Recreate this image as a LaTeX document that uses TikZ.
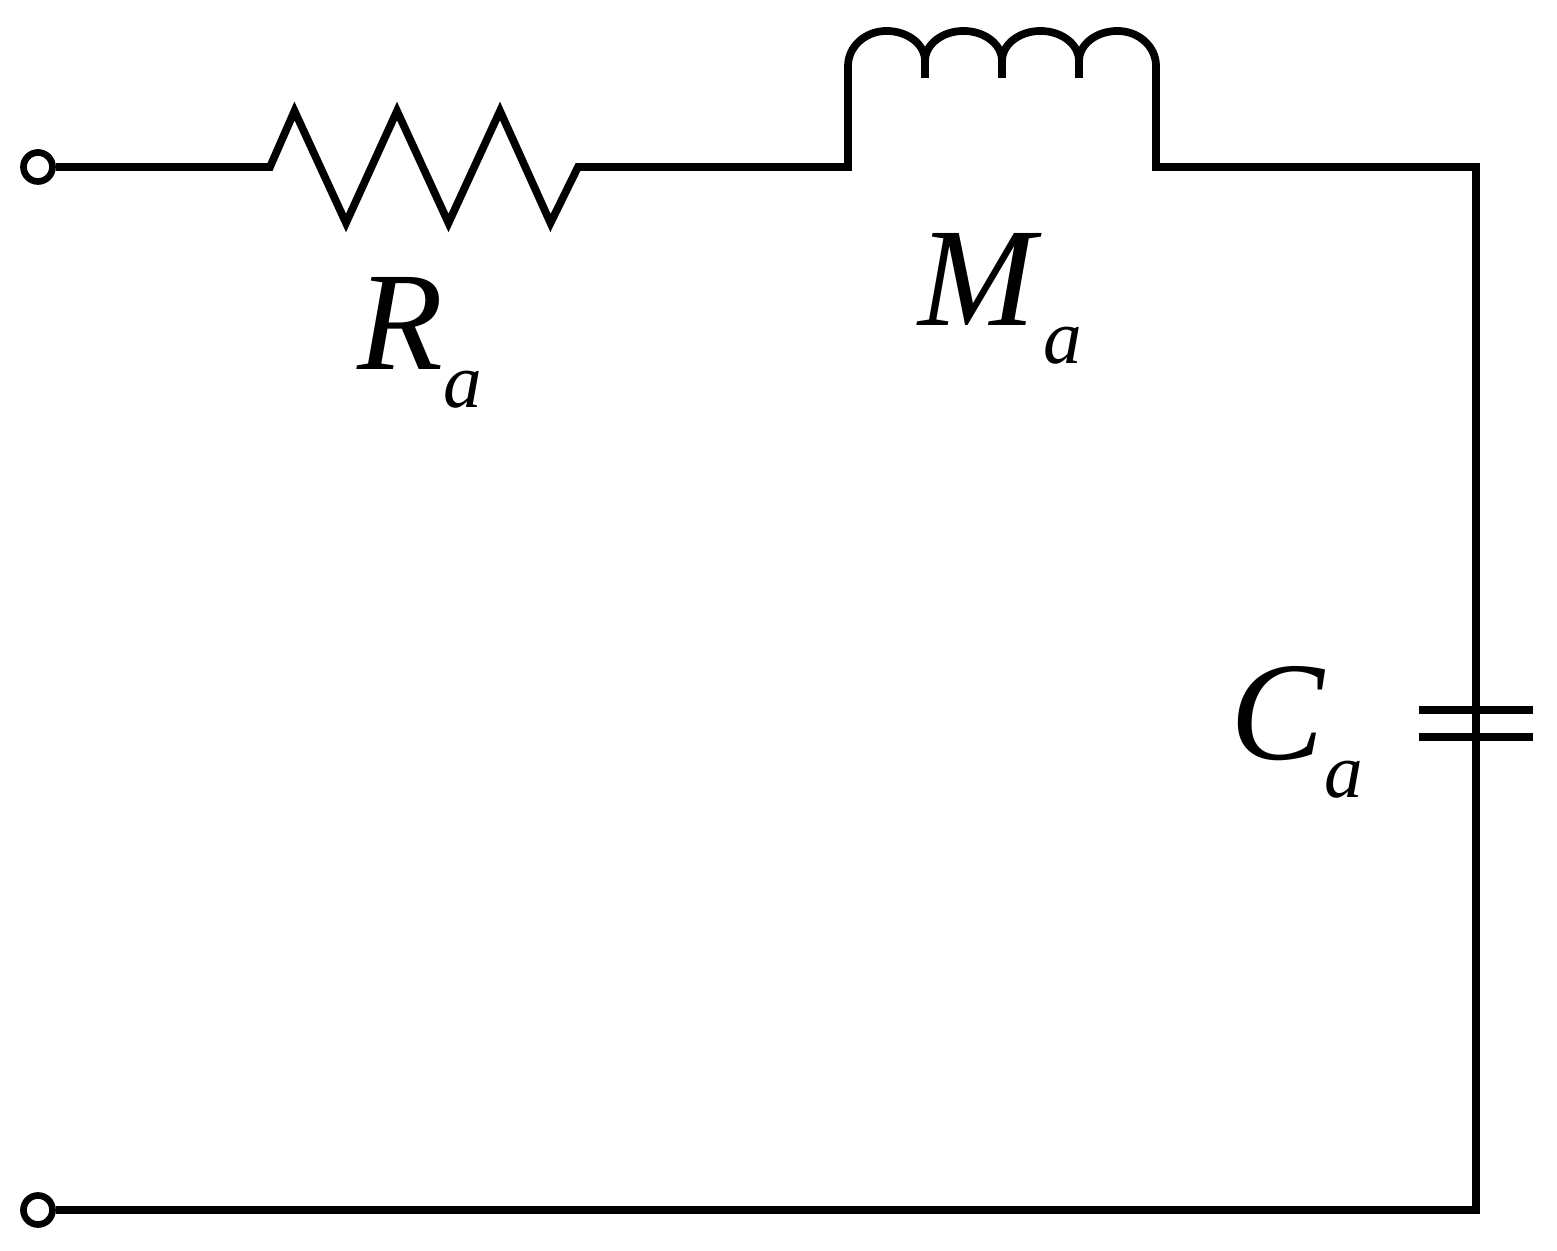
\documentclass[tikz,border=0pt]{standalone}
\usepackage{fontspec}
\setmainfont{Liberation Serif}
\newcommand{\sublabel}[2]{\fontsize{40}{40}\selectfont\itshape #1\raisebox{-0.38cm}{\fontsize{22}{22}\selectfont\itshape #2}}
\tikzset{
  wire/.style={line width=2.2pt, black},
  terminal/.style={circle, draw, line width=1.9pt, fill=white, inner sep=0pt, minimum size=0.29cm},
  complabel/.style={anchor=base west, inner sep=0pt}
}

\begin{document}
\begin{tikzpicture}
      \useasboundingbox (0,0) rectangle (15.57,12.51);
      \node [terminal] (Ta) at (0.38,10.84) {};
      \node [terminal] (Tb) at (0.38,0.41) {};
      \coordinate (Ra) at (2.70,10.84);
      \coordinate (Rb) at (5.78,10.84);
      \coordinate (La) at (8.48,10.84);
      \coordinate (Lb) at (11.56,10.84);
      \coordinate (Corner) at (14.76,10.84);
      \coordinate (Base) at (14.76,0.41);
      \coordinate (Cl) at (14.19,5.41);
      \coordinate (Cr) at (15.33,5.41);
      \coordinate (Dl) at (14.19,5.14);
      \coordinate (Dr) at (15.33,5.14);
      % resistor, inductor and the rest of the loop
      \draw [wire] (Ta) -- (Ra) -- (2.945,11.40) -- (3.46,10.28) -- (3.97,11.40)
            -- (4.485,10.28) -- (5.00,11.40) -- (5.505,10.28) -- (Rb) -- (La)
            -- (8.48,11.85)
            arc [start angle=180, end angle=90, x radius=0.385, y radius=0.35]
            arc [start angle=90, end angle=0, x radius=0.385, y radius=0.30]
            arc [start angle=180, end angle=0, x radius=0.385, y radius=0.30]
            arc [start angle=180, end angle=0, x radius=0.385, y radius=0.30]
            arc [start angle=180, end angle=90, x radius=0.385, y radius=0.30]
            arc [start angle=90, end angle=0, x radius=0.385, y radius=0.35]
            -- (Lb) -- (Corner) -- (Base) -- (Tb);
      \draw [wire] (9.25,11.95) -- (9.25,11.73);
      \draw [wire] (10.02,11.95) -- (10.02,11.73);
      \draw [wire] (10.79,11.95) -- (10.79,11.73);
      % capacitor
      \draw [wire] (Cl) -- (Cr);
      \draw [wire] (Dl) -- (Dr);
      \node [complabel] (Rlabel) at (3.57,8.81) {\sublabel{R}{a}};
      \node [complabel] (Mlabel) at (9.18,9.25) {\sublabel{M\kern0.08cm}{a}};
      \node [complabel] (Clabel) at (12.30,4.91) {\sublabel{C}{a}};
\end{tikzpicture}
\end{document}
